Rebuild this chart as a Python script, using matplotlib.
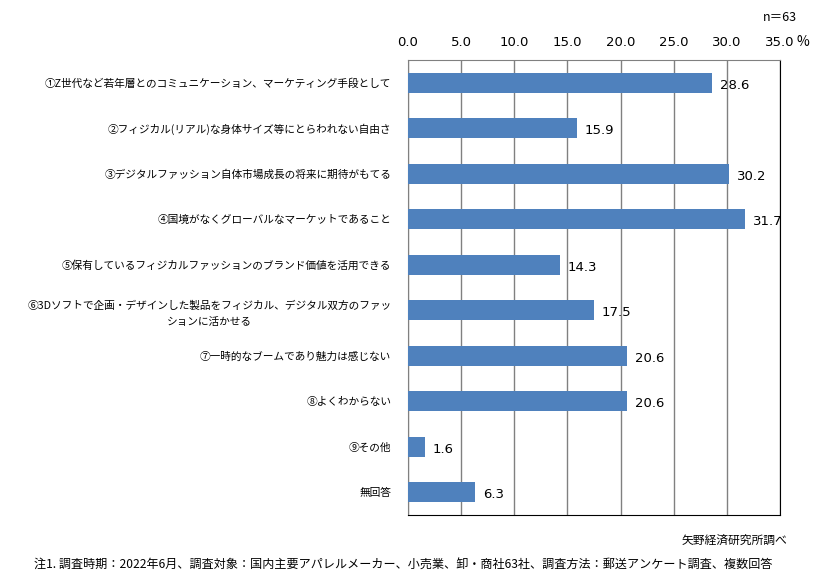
import matplotlib.pyplot as plt

plt.rcParams['font.family'] = ['Noto Sans CJK JP', 'DejaVu Sans']

# 回答項目と割合(%)
labels = [
    '①Z世代など若年層とのコミュニケーション、マーケティング手段として',
    '②フィジカル(リアル)な身体サイズ等にとらわれない自由さ',
    '③デジタルファッション自体市場成長の将来に期待がもてる',
    '④国境がなくグローバルなマーケットであること',
    '⑤保有しているフィジカルファッションのブランド価値を活用できる',
    '⑥3Dソフトで企画・デザインした製品をフィジカル、デジタル双方のファッ\nションに活かせる',
    '⑦一時的なブームであり魅力は感じない',
    '⑧よくわからない',
    '⑨その他',
    '無回答',
]
values = [28.6, 15.9, 30.2, 31.7, 14.3, 17.5, 20.6, 20.6, 1.6, 6.3]
xticks = [0, 5, 10, 15, 20, 25, 30, 35]

fig = plt.figure(figsize=(8.23, 5.85), dpi=100)
ax = fig.add_axes([0.4957, 0.1197, 0.4521, 0.7777])

pos = list(range(len(labels)))
ax.barh(pos, values, height=0.43, color='#4F81BD', zorder=3)
ax.set_ylim(len(labels) - 0.5, -0.5)
ax.set_xlim(0, 35)

# 値ラベル
for p, v in zip(pos, values):
    ax.text(v + 0.75, p + 0.05, f'{v:.1f}', va='center', ha='left',
            fontsize=9.5, family='DejaVu Sans', zorder=4)

# 目盛
ax.xaxis.tick_top()
ax.set_xticks(xticks)
ax.set_xticklabels([f'{t:.1f}' for t in xticks], fontsize=9.5, family='DejaVu Sans')
ax.tick_params(axis='x', length=0, pad=8)
ax.set_yticks(pos)
ax.set_yticklabels(labels, fontsize=7.7, multialignment='center', linespacing=1.7)
ax.tick_params(axis='y', length=0, pad=12)

ax.grid(axis='x', color='#808080', linewidth=1, zorder=0)
for side in ['left', 'top']:
    ax.spines[side].set_color('#808080')
for side in ['right', 'bottom']:
    ax.spines[side].set_color('black')

fig.text(0.976, 0.928, '%', fontsize=10, ha='center', va='center')
fig.text(0.968, 0.970, 'n＝63', fontsize=9, ha='right', va='center')
fig.text(0.957, 0.077, '矢野経済研究所調べ', fontsize=8.5, ha='right', va='center')
fig.text(0.041, 0.034, '注1. 調査時期：2022年6月、調査対象：国内主要アパレルメーカー、小売業、卸・商社63社、調査方法：郵送アンケート調査、複数回答',
         fontsize=8.7, ha='left', va='center')

fig.savefig('out.png', dpi=100)
